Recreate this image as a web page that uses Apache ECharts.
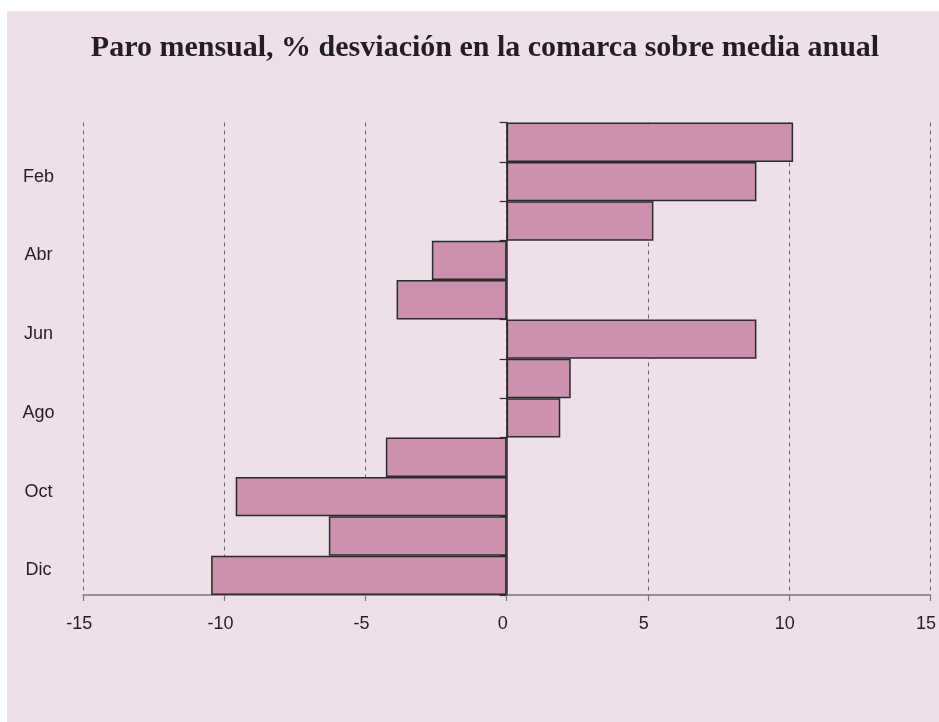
<!DOCTYPE html>
<html>
<head>
<meta charset="utf-8">
<script src="https://cdn.jsdelivr.net/npm/echarts@6/dist/echarts.min.js"></script>
<style>
html,body{margin:0;padding:0;background:#ffffff;}
#chart{width:939px;height:722px;}
</style>
</head>
<body>
<div id="chart"></div>
<script>
const titleText = 'Paro mensual, % desviación en la comarca sobre media anual';
const months = ['Ene','Feb','Mar','Abr','May','Jun','Jul','Ago','Sep','Oct','Nov','Dic'];
const deviation = [10.15, 8.85, 5.2, -2.65, -3.9, 8.85, 2.27, 1.9, -4.28, -9.6, -6.3, -10.47];
const xMin = -15, xMax = 15, xStep = 5;

const chart = echarts.init(document.getElementById('chart'), null, {renderer:'canvas'});
chart.setOption({
  animation: false,
  backgroundColor: '#ffffff',
  graphic: [{
    type: 'rect', z: -10, silent: true,
    shape: {x: 7, y: 11, width: 932, height: 711},
    style: {fill: '#efdfe9'}
  }],
  title: {
    text: titleText,
    left: 480,
    textAlign: 'center',
    top: 28,
    textStyle: {
      fontFamily: 'Liberation Serif',
      fontWeight: 'bold',
      fontSize: 30,
      color: '#231f20'
    }
  },
  grid: {left: 83.3, right: 7.3, top: 122.5, bottom: 127, containLabel: false},
  xAxis: {
    type: 'value', min: xMin, max: xMax, interval: xStep,
    axisLine: {show: true, onZero: false, lineStyle: {color: '#777777', width: 1.5}},
    axisTick: {show: true, length: 6, lineStyle: {color: '#777777', width: 1.2}},
    axisLabel: {
      margin: 20, fontFamily: 'Liberation Sans', fontSize: 18, color: '#231f20',
      padding: [0, 8, 0, 0]
    },
    splitLine: {show: true, lineStyle: {color: '#666666', type: [4, 4], width: 1}}
  },
  yAxis: [{
    type: 'category', data: months, inverse: true, position: 'left',
    axisLine: {show: false, onZero: false},
    axisTick: {show: false},
    axisLabel: {
      interval: function (i) { return i % 2 === 1; },
      margin: 44.8, align: 'center',
      verticalAlign: 'bottom', lineHeight: 10,
      fontFamily: 'Liberation Sans', fontSize: 18, color: '#231f20'
    },
    splitLine: {show: false}
  }, {
    type: 'category', data: months, inverse: true, position: 'left',
    axisLine: {show: true, onZero: true, lineStyle: {color: '#2b2b2b', width: 1.5}},
    axisTick: {show: true, interval: 0, length: 7, lineStyle: {color: '#2b2b2b', width: 1.2}},
    axisLabel: {show: false},
    splitLine: {show: false}
  }],
  series: [{
    type: 'bar',
    yAxisIndex: 0,
    data: deviation,
    barWidth: '100%',
    itemStyle: {color: '#cb91af', borderColor: '#2b2b2b', borderWidth: 1.5}
  }]
});
</script>
</body>
</html>
